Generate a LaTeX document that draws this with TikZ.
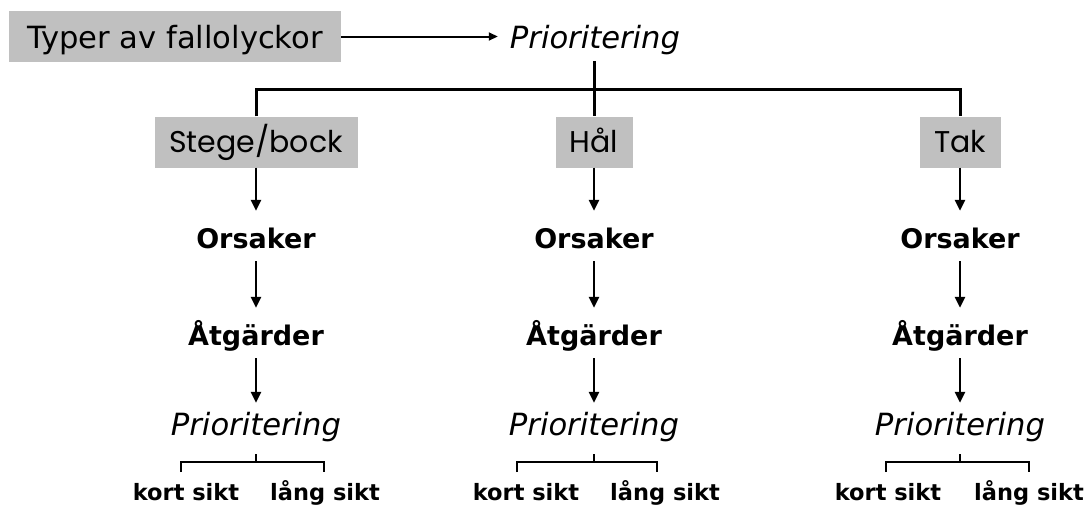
\documentclass[tikz,border=0pt]{standalone}
\usepackage{fontspec}
\setmainfont{DejaVu Sans}
\newfontfamily\boxfont{Poppins}
\usetikzlibrary{arrows.meta,calc}
\definecolor{boxgray}{RGB}{192,192,192}
\begin{document}
\begin{tikzpicture}[x=1pt,y=-1pt,
  topbox/.style={fill=boxgray, inner sep=0pt, minimum width=332pt, minimum height=51pt,
    text height=23pt, text depth=0pt, font=\fontsize{30.6}{36}\selectfont},
  catbox/.style={fill=boxgray, inner sep=0pt, minimum height=51pt,
    text height=21pt, text depth=0pt, font=\boxfont\fontsize{30}{36}\selectfont},
  stage/.style={anchor=base, inner xsep=2pt, inner ysep=12pt, text height=25pt, text depth=1pt,
    font=\bfseries\fontsize{27}{32}\selectfont},
  prio/.style={anchor=base, inner xsep=2pt, inner ysep=12pt, text height=20pt, text depth=7pt,
    font=\itshape\fontsize{30.6}{36}\selectfont},
  term/.style={anchor=base, inner sep=0pt, text height=17pt, text depth=0pt,
    font=\bfseries\fontsize{22.5}{27}\selectfont},
  link/.style={line width=3pt},
  arr/.style={line width=2.8pt, -{Triangle[length=11pt,width=10pt]}},
  thinarr/.style={line width=2pt, -{Triangle[length=9pt,width=8pt]}},
  brace/.style={line width=2.6pt}
]
\useasboundingbox (0,0) rectangle (1084,506);

% top row
\node[topbox] (typer) at (175,36.5) {Typer av fallolyckor};
\node[prio, text height=22pt, text depth=0pt, inner xsep=12pt, inner ysep=13pt] (prio0) at (595,48) {Prioritering};
\draw[thinarr] (typer.east) -- (typer.east -| prio0.west);

% category boxes
\node[catbox, minimum width=203pt] (stege) at (256,142) {Stege/bock};
\node[catbox, minimum width=77pt] (hal) at (594,142) {Hål};
\node[catbox, minimum width=81pt] (tak) at (960,142) {Tak};

% branching bar
\coordinate (barL) at (256,89);
\coordinate (barR) at (960,89);
\draw[link] (stege.north) -- (barL) -- (barR) -- (tak.north);
\draw[link] (prio0.south -| hal.north) -- (hal.north);

% columns
\foreach \c/\x/\b/\kx/\lx/\bl/\br in {1/256/stege/186/325/181/324, 2/594/hal/526/665/517/657, 3/960/tak/888/1029/886/1029}{
  \node[stage] (ors\c) at (\x,248) {Orsaker};
  \node[stage] (atg\c) at (\x,345) {Åtgärder};
  \node[prio] (prio\c) at (\x,435) {Prioritering};
  \draw[arr] (\b.south) -- (ors\c.north);
  \draw[arr] (ors\c.south) -- (atg\c.north);
  \draw[arr] (atg\c.south) -- (prio\c.north);
  \node[term] (kort\c) at (\kx,500) {kort sikt};
  \node[term] (lang\c) at (\lx,500) {lång sikt};
  \coordinate (bl\c) at (\bl,462);
  \coordinate (br\c) at (\br,462);
  \draw[brace] ($(bl\c)+(0,10)$) -- (bl\c) -- (br\c) -- ($(br\c)+(0,10)$);
  \draw[brace] (prio\c.south) -- (prio\c.south |- bl\c);
}
\end{tikzpicture}
\end{document}
